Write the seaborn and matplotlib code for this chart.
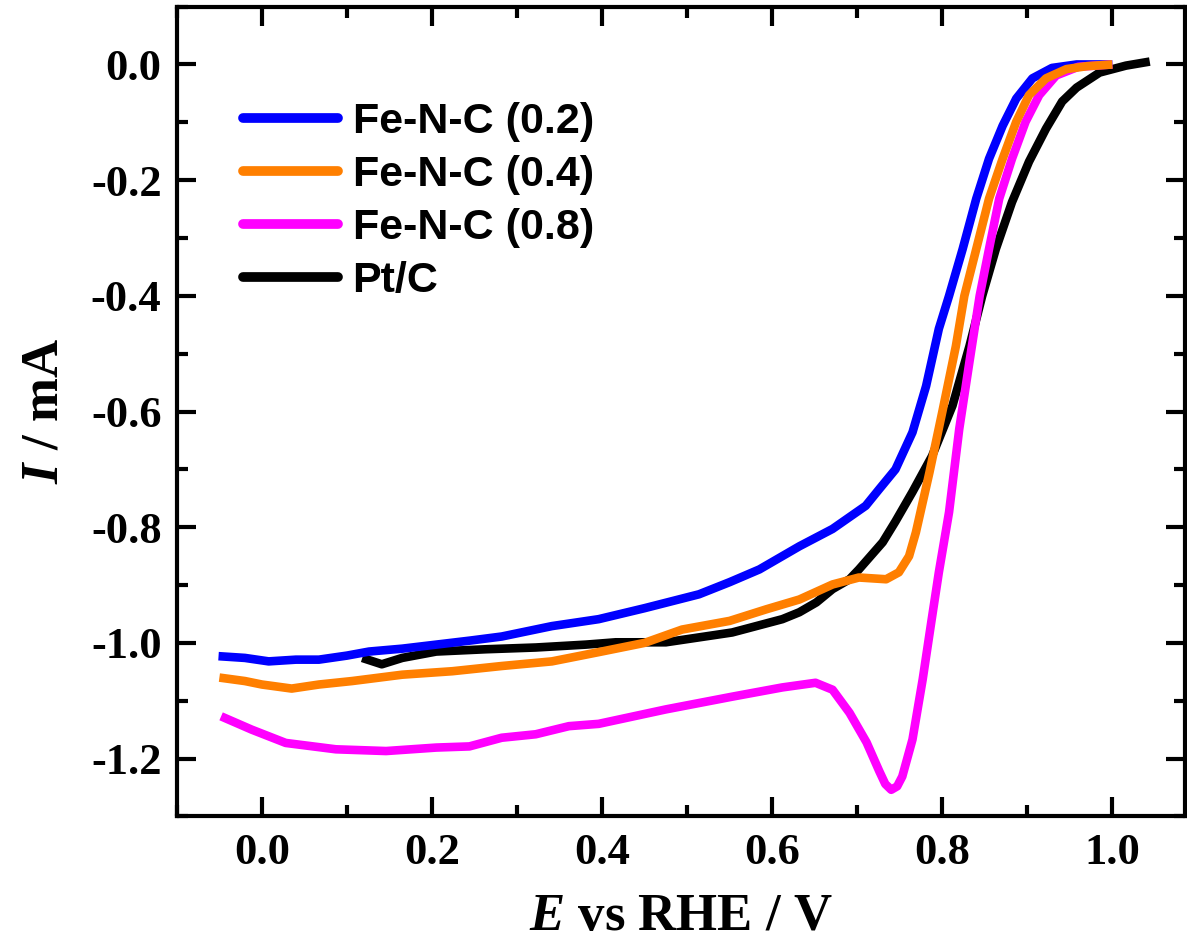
import numpy as np
import pandas as pd
import matplotlib
matplotlib.use("Agg")
import matplotlib.pyplot as plt
import seaborn as sns
from matplotlib.ticker import MultipleLocator

# ---- data ----
labels = ["Fe-N-C (0.2)", "Fe-N-C (0.4)", "Fe-N-C (0.8)", "Pt/C"]
colors = ["#0000FF", "#FF7F00", "#FF00FF", "#000000"]

x_fe02 = [-0.051, -0.02, 0.008, 0.04, 0.067, 0.10, 0.126, 0.165, 0.205, 0.245, 0.282, 0.341, 0.396, 0.45,
          0.514, 0.55, 0.585, 0.632, 0.671, 0.71, 0.726, 0.745, 0.765, 0.781, 0.796, 0.808, 0.824, 0.84,
          0.855, 0.871, 0.887, 0.906, 0.929, 0.958, 1.0]
y_fe02 = [-1.023, -1.026, -1.032, -1.029, -1.029, -1.022, -1.015, -1.010, -1.003, -0.996, -0.989, -0.971,
          -0.959, -0.940, -0.916, -0.895, -0.873, -0.833, -0.803, -0.763, -0.734, -0.700, -0.636, -0.556,
          -0.457, -0.400, -0.319, -0.232, -0.163, -0.106, -0.059, -0.024, -0.006, 0.0, 0.0]

x_fe04 = [-0.05, -0.02, 0.0, 0.035, 0.067, 0.106, 0.165, 0.224, 0.282, 0.341, 0.396, 0.45, 0.494, 0.55,
          0.593, 0.632, 0.671, 0.702, 0.734, 0.749, 0.761, 0.769, 0.785, 0.80, 0.816, 0.826, 0.84, 0.855,
          0.871, 0.887, 0.902, 0.922, 0.946, 0.97, 1.0]
y_fe04 = [-1.060, -1.066, -1.072, -1.079, -1.072, -1.066, -1.055, -1.049, -1.040, -1.032, -1.016, -1.000,
          -0.977, -0.962, -0.942, -0.925, -0.899, -0.887, -0.890, -0.878, -0.850, -0.809, -0.705, -0.601,
          -0.487, -0.400, -0.319, -0.232, -0.163, -0.099, -0.053, -0.024, -0.008, -0.003, 0.0]

x_fe08 = [-0.048, -0.012, 0.028, 0.087, 0.146, 0.205, 0.244, 0.282, 0.322, 0.361, 0.396, 0.475, 0.553,
          0.612, 0.651, 0.671, 0.691, 0.711, 0.726, 0.733, 0.74, 0.747, 0.753, 0.765, 0.777, 0.787, 0.796,
          0.808, 0.82, 0.832, 0.844, 0.855, 0.867, 0.882, 0.898, 0.914, 0.934, 0.96, 1.0]
y_fe08 = [-1.127, -1.150, -1.173, -1.184, -1.187, -1.181, -1.179, -1.164, -1.158, -1.144, -1.140, -1.115,
          -1.093, -1.077, -1.069, -1.081, -1.121, -1.172, -1.222, -1.244, -1.254, -1.248, -1.231, -1.167,
          -1.063, -0.965, -0.878, -0.774, -0.630, -0.514, -0.400, -0.319, -0.232, -0.163, -0.099, -0.053,
          -0.019, -0.004, 0.0]

x_ptc = [0.118, 0.141, 0.165, 0.205, 0.264, 0.322, 0.381, 0.416, 0.475, 0.553, 0.612, 0.632, 0.652, 0.671,
         0.691, 0.702, 0.73, 0.745, 0.765, 0.788, 0.812, 0.832, 0.847, 0.863, 0.882, 0.902, 0.922, 0.941,
         0.958, 0.985, 1.016, 1.044]
y_ptc = [-1.026, -1.037, -1.026, -1.015, -1.011, -1.008, -1.003, -0.999, -0.999, -0.982, -0.959, -0.947,
         -0.930, -0.907, -0.890, -0.873, -0.826, -0.790, -0.739, -0.677, -0.590, -0.487, -0.400, -0.319,
         -0.238, -0.168, -0.111, -0.064, -0.040, -0.014, -0.002, 0.005]

xs = [x_fe02, x_fe04, x_fe08, x_ptc]
ys = [y_fe02, y_fe04, y_fe08, y_ptc]

frames = [pd.DataFrame({"E": x, "I": y, "sample": lab}) for x, y, lab in zip(xs, ys, labels)]
df = pd.concat(frames, ignore_index=True)

# ---- style ----
sns.set_style("ticks")
plt.rcParams["font.family"] = ["Liberation Serif", "DejaVu Serif"]
plt.rcParams["font.weight"] = "bold"
plt.rcParams["text.color"] = "black"
plt.rcParams["axes.labelcolor"] = "black"
plt.rcParams["axes.edgecolor"] = "black"
plt.rcParams["xtick.color"] = "black"
plt.rcParams["ytick.color"] = "black"
plt.rcParams["mathtext.fontset"] = "custom"
plt.rcParams["mathtext.it"] = "Liberation Serif:italic:bold"
plt.rcParams["mathtext.rm"] = "Liberation Serif:bold"
plt.rcParams["mathtext.bf"] = "Liberation Serif:bold"

fig = plt.figure(figsize=(11.87, 9.46), dpi=100)
ax = fig.add_axes([0.149, 0.137, 0.849, 0.856])

sns.lineplot(data=df, x="E", y="I", hue="sample", hue_order=labels,
             palette=dict(zip(labels, colors)), sort=False, estimator=None,
             linewidth=6.2, ax=ax, legend=True)

zorders = {"Fe-N-C (0.2)": 3, "Fe-N-C (0.4)": 5, "Fe-N-C (0.8)": 4, "Pt/C": 2}
for line, lab in zip(ax.lines, labels):
    line.set_zorder(zorders[lab])
    line.set_solid_capstyle("butt")
    line.set_solid_joinstyle("round")

ax.set_xlim(-0.1, 1.085)
ax.set_ylim(-1.30, 0.10)
ax.xaxis.set_major_locator(MultipleLocator(0.2))
ax.xaxis.set_minor_locator(MultipleLocator(0.1))
ax.yaxis.set_major_locator(MultipleLocator(0.2))
ax.yaxis.set_minor_locator(MultipleLocator(0.1))

ax.tick_params(which="both", direction="in", top=True, right=True, width=3, color="black")
ax.tick_params(which="major", length=14)
ax.tick_params(which="minor", length=8)
ax.tick_params(axis="x", which="major", pad=12, labelsize=32, labelcolor="black")
ax.tick_params(axis="y", which="major", pad=11, labelsize=32, labelcolor="black")
for s in ax.spines.values():
    s.set_linewidth(3)
    s.set_color("black")

ax.set_xticklabels([f"{t:.1f}" for t in ax.get_xticks()], fontweight="bold")
ax.set_yticklabels([f"{t:.1f}" for t in ax.get_yticks()], fontweight="bold")
ax.set_xlim(-0.1, 1.085)
ax.set_ylim(-1.30, 0.10)

ax.set_xlabel(r"$\mathit{E}$ vs RHE / V", fontsize=38, fontweight="bold", labelpad=14, color="black")
ax.set_ylabel(r"$\mathit{I}$ / mA", fontsize=38, fontweight="bold", labelpad=16, color="black")

leg = ax.legend(loc="upper left", bbox_to_anchor=(0.027, 0.93), frameon=False,
                prop={"family": "Liberation Sans", "weight": "bold", "size": 31},
                handlelength=2.2, handletextpad=0.35, labelspacing=0.3)
for h in leg.get_lines():
    h.set_linewidth(7)
for t in leg.get_texts():
    t.set_color("black")

fig.savefig("out.png", dpi=100)
